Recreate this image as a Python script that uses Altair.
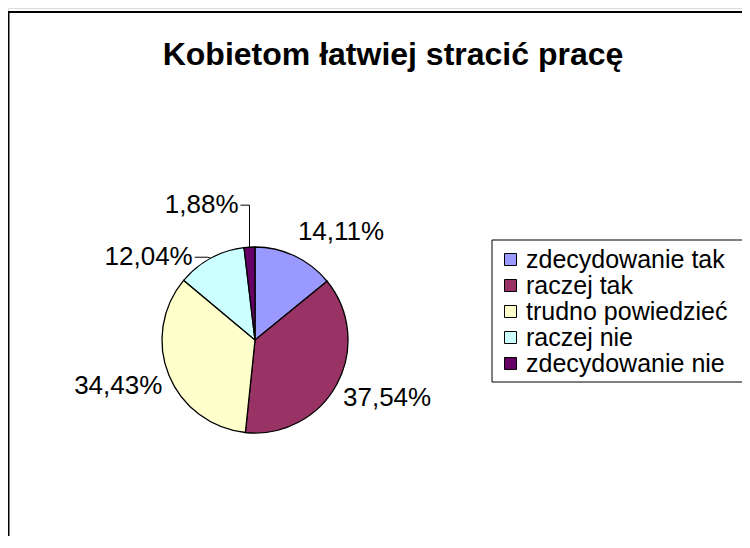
import math
import altair as alt
import pandas as pd

# ---- data ----
categories = ["zdecydowanie tak", "raczej tak", "trudno powiedzieć", "raczej nie", "zdecydowanie nie"]
values = [14.11, 37.54, 34.43, 12.04, 1.88]
colors = ["#9999FF", "#993366", "#FFFFCC", "#CCFFFF", "#660066"]
title_text = "Kobietom łatwiej stracić pracę"

# ---- layout (chart pixel space) ----
W, H = 734, 528
CX, CY, R = 247, 332, 93
GAP_X, GAP_Y = 7, 15
FONT = "Liberation Sans"
LABEL_FS = 26
LEGEND_FS = 25

# leader-label placement (style): elbow offset from slice edge point, then horizontal run
leader_style = {
    "raczej nie": {"elbow": (-3, -1), "run": -13},
    "zdecydowanie nie": {"elbow": (0, -42), "run": -9},
}

total = sum(values)
rows, leaders = [], []
cum = 0.0
for i, (c, v) in enumerate(zip(categories, values)):
    mid = (cum + v / 2) / total * 2 * math.pi
    cum += v
    s, co = math.sin(mid), math.cos(mid)
    ex, ey = CX + R * s, CY - R * co
    label = f"{v:.2f}%".replace(".", ",")
    if c in leader_style:
        st = leader_style[c]
        bx, by = ex + st["elbow"][0], ey + st["elbow"][1]
        lx, ly = bx + st["run"], by
        leaders += [
            {"cat": c, "o": 0, "x": ex, "y": ey},
            {"cat": c, "o": 1, "x": bx, "y": by},
            {"cat": c, "o": 2, "x": lx, "y": ly},
        ]
        tx, ty = lx - 2, ly
        align = "right" if st["run"] < 0 else "left"
    else:
        tx = CX + (R + GAP_X) * s
        ty = CY - (R + GAP_Y) * co - (LABEL_FS / 2) * co + 1
        align = "left" if s >= 0 else "right"
    rows.append({"cat": c, "idx": i, "value": v, "label": label, "tx": tx, "ty": ty, "align": align})

pie_df = pd.DataFrame({"cat": categories, "value": values, "idx": list(range(len(values)))})
lab_df = pd.DataFrame(rows)
lead_df = pd.DataFrame(leaders)

xs = alt.Scale(domain=[0, W], nice=False, zero=False)
ys = alt.Scale(domain=[0, H], nice=False, zero=False, reverse=True)

one = pd.DataFrame({"a": [0]})

frame_top = alt.Chart(one).mark_rule(color="black", strokeWidth=2).encode(
    x=alt.value(0), x2=alt.value(W + 20), y=alt.value(4)
)
frame_left = alt.Chart(one).mark_rule(color="black", strokeWidth=2).encode(
    x=alt.value(0.5), y=alt.value(3), y2=alt.value(H + 20)
)

legend_box = alt.Chart(one).mark_rect(
    fill="white", stroke="black", strokeWidth=1
).encode(x=alt.value(484), x2=alt.value(W + 50), y=alt.value(232), y2=alt.value(374))

pie = alt.Chart(pie_df).mark_arc(outerRadius=R, stroke="black", strokeWidth=1.3).encode(
    theta=alt.Theta("value:Q", stack=True),
    order=alt.Order("idx:Q"),
    color=alt.Color(
        "cat:N",
        scale=alt.Scale(domain=categories, range=colors),
        sort=categories,
        legend=alt.Legend(
            title=None,
            orient="none",
            legendX=484,
            legendY=233,
            symbolType="square",
            symbolSize=144,
            symbolStrokeColor="black",
            symbolStrokeWidth=1,
            labelFont=FONT,
            labelFontSize=LEGEND_FS,
            labelColor="black",
            labelOffset=3,
            rowPadding=-1,
            padding=6,
            labelLimit=400,
        ),
    ),
    x=alt.value(CX),
    y=alt.value(CY),
)

leads = alt.Chart(lead_df).mark_line(color="black", strokeWidth=1).encode(
    x=alt.X("x:Q", scale=xs, axis=None),
    y=alt.Y("y:Q", scale=ys, axis=None),
    detail="cat:N",
    order="o:Q",
)

def label_layer(al):
    return alt.Chart(lab_df[lab_df["align"] == al]).mark_text(
        font=FONT, fontSize=LABEL_FS, color="black", align=al, baseline="middle"
    ).encode(
        x=alt.X("tx:Q", scale=xs, axis=None),
        y=alt.Y("ty:Q", scale=ys, axis=None),
        text="label:N",
    )

chart = alt.layer(frame_top, frame_left, legend_box, pie, leads, label_layer("left"), label_layer("right")).properties(
    width=W,
    height=H,
    autosize=alt.AutoSizeParams(type="none"),
    padding=0,
    title=alt.TitleParams(
        title_text,
        anchor="middle",
        orient="top",
        offset=0,
        baseline="middle",
        dy=79,
        dx=18,
        font=FONT,
        fontSize=32,
        fontWeight="bold",
        color="black",
    ),
).configure_view(stroke=None).configure(background="white")

chart.save("out.html", embed_options={"renderer": "svg", "actions": False})
